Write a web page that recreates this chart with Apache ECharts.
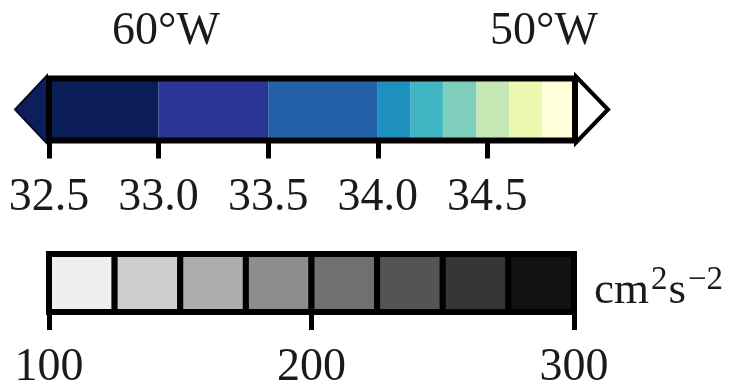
<!DOCTYPE html>
<html>
<head>
<meta charset="utf-8">
<script src="https://cdn.jsdelivr.net/npm/echarts@6/dist/echarts.min.js"></script>
<style>html,body{margin:0;padding:0;background:#fff}#c{width:734px;height:391px}</style>
</head>
<body>
<div id="c"></div>
<script>
// Top colorbar (salinity-like levels)
const topLevels = [32.5, 33.0, 33.5, 34.0, 34.15, 34.3, 34.45, 34.6, 34.75, 34.9];
const topColors = ['#0b1d56', '#2b3595', '#2460a7', '#1e90c0', '#40b5c4', '#7fcdbb', '#c6e8b4', '#ecf7b0', '#fefed8'];
const topTicks = [32.5, 33.0, 33.5, 34.0, 34.5];
const topTickLabels = ['32.5', '33.0', '33.5', '34.0', '34.5'];
const lowExtendColor = '#0c1f5c';
const highExtendColor = '#ffffff';
// Bottom colorbar (cm^2 s^-2)
const botLevels = [100, 125, 150, 175, 200, 225, 250, 275, 300];
const botColors = ['#efefef', '#cecece', '#adadad', '#8d8d8d', '#707070', '#545454', '#363636', '#121212'];
const botTickLabels = ['100', '200', '300'];
// Longitude labels
const lonLabels = ['60°W', '50°W'];

const FONT = "'Liberation Serif','DejaVu Serif',serif";

const topSegs = topColors.map((c, i) => [topLevels[i], topLevels[i + 1], i]);
const botSegs = botColors.map((c, i) => [botLevels[i], botLevels[i + 1], i]);

const chart = echarts.init(document.getElementById('c'));

function segRender(colors, stroke, lw) {
  return function (params, api) {
    const a = api.coord([api.value(0), 1]);
    const b = api.coord([api.value(1), 0]);
    return {
      type: 'rect',
      shape: { x: a[0], y: a[1], width: b[0] - a[0], height: b[1] - a[1] },
      style: stroke ? { fill: colors[api.value(2)], stroke: stroke, lineWidth: lw, lineJoin: 'miter' }
                    : { fill: colors[api.value(2)] }
    };
  };
}

function frameRender(params, api) {
  const a = api.coord([api.value(0), 1]);
  const b = api.coord([api.value(1), 0]);
  const midY = (a[1] + b[1]) / 2;
  return {
    type: 'group',
    children: [
      {
        type: 'polygon',
        shape: { points: [[a[0] - 2, a[1] - 3], [a[0] - 34, midY], [a[0] - 2, b[1] + 3]] },
        style: { fill: lowExtendColor, stroke: '#050a26', lineWidth: 2, lineJoin: 'miter' }
      },
      {
        type: 'polygon',
        shape: { points: [[b[0] + 1, a[1] - 2], [b[0] + 33, midY], [b[0] + 1, b[1] + 2]] },
        style: { fill: highExtendColor, stroke: '#000', lineWidth: 4, lineJoin: 'miter' }
      },
      {
        type: 'rect',
        shape: { x: a[0], y: a[1], width: b[0] - a[0], height: b[1] - a[1] },
        style: { fill: 'none', stroke: '#000', lineWidth: 6, lineJoin: 'miter' }
      }
    ]
  };
}

const labelStyle = { fontFamily: FONT, fontSize: 46, color: '#1a1a1a' };

chart.setOption({
  animation: false,
  backgroundColor: '#fff',
  grid: [
    { left: 49, width: 526, top: 78.5, height: 62 },
    { left: 49, width: 525, top: 254, height: 63 }
  ],
  xAxis: [
    {
      gridIndex: 0, type: 'value', min: topLevels[0], max: topLevels[topLevels.length - 1],
      axisLine: { show: false }, splitLine: { show: false },
      axisTick: { show: true, length: 18, customValues: topTicks, lineStyle: { color: '#000', width: 5 } },
      axisLabel: {
        show: true, margin: 34, customValues: topTicks,
        formatter: v => topTickLabels[topTicks.indexOf(v)] ?? '',
        ...labelStyle
      }
    },
    {
      gridIndex: 1, type: 'value', min: 100, max: 300, interval: 100,
      axisLine: { show: false }, splitLine: { show: false },
      axisTick: { show: true, length: 18, lineStyle: { color: '#000', width: 5 } },
      axisLabel: {
        show: true, margin: 33,
        formatter: v => botTickLabels[Math.round((v - 100) / 100)] ?? '',
        ...labelStyle
      }
    }
  ],
  yAxis: [
    { gridIndex: 0, type: 'value', min: 0, max: 1, show: false },
    { gridIndex: 1, type: 'value', min: 0, max: 1, show: false }
  ],
  series: [
    { type: 'custom', xAxisIndex: 0, yAxisIndex: 0, data: topSegs, renderItem: segRender(topColors), clip: false, silent: true },
    { type: 'custom', xAxisIndex: 0, yAxisIndex: 0, data: [[topLevels[0], topLevels[topLevels.length - 1]]], renderItem: frameRender, clip: false, silent: true, z: 3 },
    { type: 'custom', xAxisIndex: 1, yAxisIndex: 1, data: botSegs, renderItem: segRender(botColors, '#000', 6), clip: false, silent: true }
  ],
  graphic: [
    { type: 'text', x: 166, y: 32, style: { text: lonLabels[0], fontFamily: FONT, fontSize: 46, fill: '#1a1a1a', align: 'center', verticalAlign: 'middle' } },
    { type: 'text', x: 544, y: 32, style: { text: lonLabels[1], fontFamily: FONT, fontSize: 46, fill: '#1a1a1a', align: 'center', verticalAlign: 'middle' } },
    {
      type: 'text', x: 594, y: 264,
      style: {
        text: '{a|cm}{b|2}{a|s}{c|−2}',
        fill: '#1a1a1a',
        rich: {
          a: { fontFamily: FONT, fontSize: 45, fill: '#1a1a1a', verticalAlign: 'bottom', lineHeight: 50 },
          b: { fontFamily: FONT, fontSize: 33, fill: '#1a1a1a', verticalAlign: 'top', lineHeight: 12, padding: [0, 1, 0, 2] },
          c: { fontFamily: FONT, fontSize: 33, fill: '#1a1a1a', verticalAlign: 'top', lineHeight: 12, padding: [0, 0, 0, 2] }
        }
      }
    }
  ]
});
</script>
</body>
</html>
